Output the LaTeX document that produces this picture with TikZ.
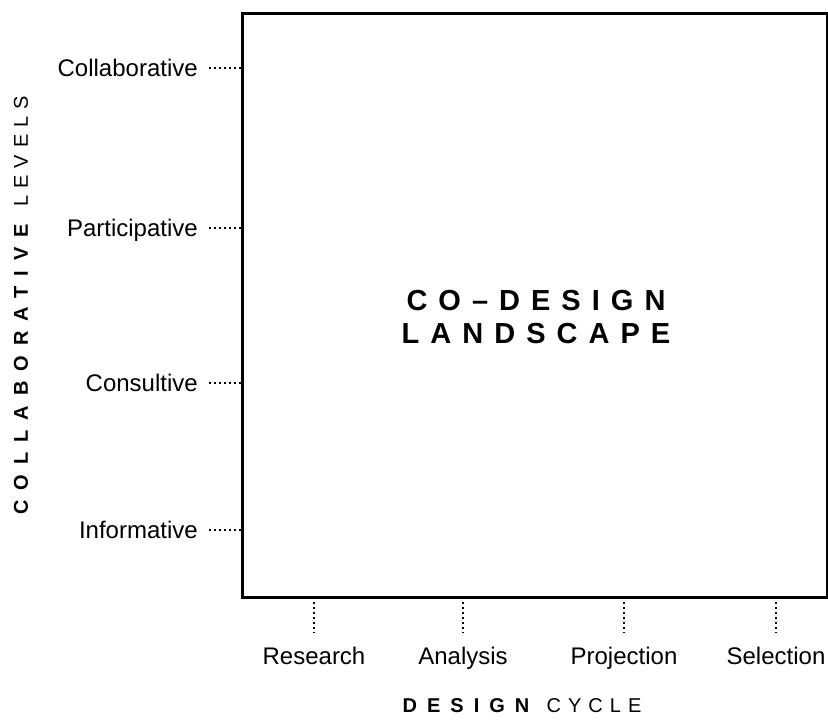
\documentclass[tikz,border=0pt]{standalone}
\usepackage{fontspec}
\setmainfont{Liberation Sans}
\newfontfamily\wideface[LetterSpace=38]{Liberation Sans}
\newfontfamily\axisface[LetterSpace=35]{Liberation Sans}
\newfontfamily\axisboldface[LetterSpace=50]{Liberation Sans Bold}
\usetikzlibrary{calc}

\tikzset{
  tickline/.style={line width=1.7pt, dash pattern=on 1.7pt off 2.05pt},
  levellbl/.style={anchor=east, inner sep=0.75pt, text height=13pt, text depth=0pt, font=\fontsize{18}{22}\selectfont},
  phaselbl/.style={anchor=center, inner sep=0.75pt, text height=13pt, text depth=0pt, font=\fontsize{18}{22}\selectfont},
  axislbl/.style={inner sep=0.75pt, font=\fontsize{15}{18}\selectfont}
}

\begin{document}
\begin{tikzpicture}[x=0.75pt,y=0.75pt,yscale=-1,xscale=1]
\useasboundingbox (0,0) rectangle (828,720);

%Shape: Rectangle [frame]
\draw [line width=2.25pt] (242,14) -- (827,14) -- (827,597) -- (242,597) -- cycle ;
\coordinate (frameW) at (242,305.5);
\coordinate (frameS) at (534.5,597);

% Text Node
\node [inner sep=0.75pt, align=center, font=\wideface\bfseries\fontsize{21.75}{24.75}\selectfont] (landscape) at (536,317) {CO–DESIGN\\LANDSCAPE};

%Levels (left side)
\foreach \y/\name/\txt in {68/collab/Collaborative, 228/partic/Participative, 383/consult/Consultive, 530/inform/Informative}{
  \node [levellbl] (\name) at (199,\y) {\txt};
  \draw [tickline, shorten <=7.5pt] (\name.east) -- (\name.east -| frameW) ;
}

%Phases (bottom)
\foreach \x/\name/\txt in {314/research/Research, 463/analysis/Analysis, 624/projection/Projection, 776/selection/Selection}{
  \node [phaselbl] (\name) at (\x,656) {\txt};
  \draw [tickline, shorten >=10.5pt] (\name.north |- frameS) -- (\name.north) ;
}

% Text Node
\node [axislbl] (cycle) at (522,706) {{\axisboldface DESIGN}\hspace*{13pt}{\axisface CYCLE}};
% Text Node
\node [axislbl, rotate=90] (levels) at (21,305.5) {{\axisboldface COLLABORATIVE}\hspace*{13pt}{\axisface LEVELS}};

\end{tikzpicture}
\end{document}
